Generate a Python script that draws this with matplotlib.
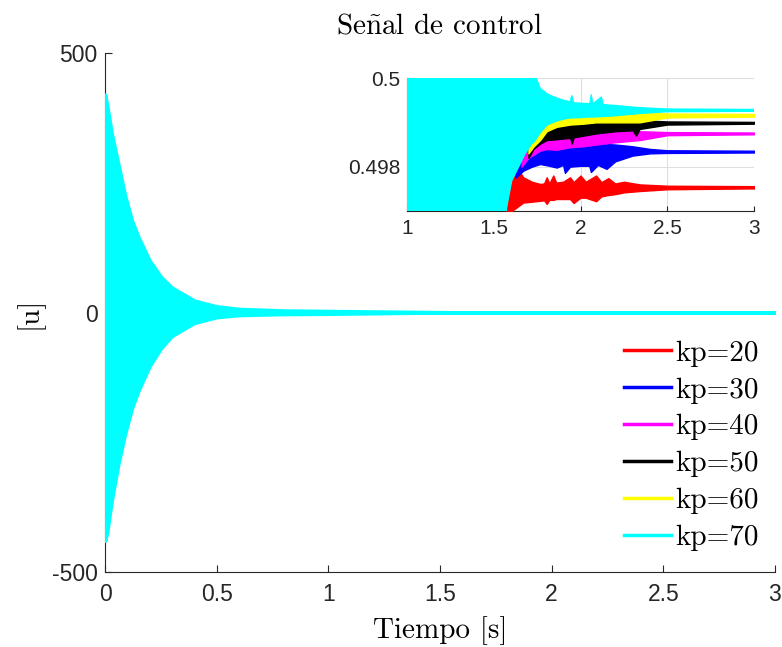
import numpy as np
import matplotlib
matplotlib.use('Agg')
import matplotlib.pyplot as plt
from matplotlib.lines import Line2D

plt.rcParams['axes.unicode_minus'] = False
plt.rcParams['mathtext.fontset'] = 'cm'

# envelope (upper / lower) of each control signal
# kp=70 is the only one that shows at the start of the run
t70 = [0, 0.01, 0.03, 0.06, 0.09, 0.12, 0.15, 0.2, 0.25, 0.3, 0.4, 0.5, 0.6, 0.8, 1.0,
       1.56, 1.574, 1.603, 1.632, 1.68, 1.719, 1.735, 1.767, 1.805, 1.824, 1.863, 1.901,
       1.94, 1.95, 1.96, 2.054, 2.062, 2.07, 2.12, 2.13, 2.2, 2.285, 2.343, 2.5, 3.0]
hi70 = [420, 398, 345, 285, 225, 178, 145, 100, 69, 48, 23, 12, 7, 4, 3,
        0.502, 0.502, 0.502, 0.502, 0.502, 0.502, 0.5001, 0.49977, 0.49965, 0.49961, 0.49955, 0.4995,
        0.49946, 0.4996, 0.49944, 0.49942, 0.49962, 0.49941, 0.49957, 0.4994, 0.49938, 0.49935, 0.49933, 0.4993, 0.49929]
lo70 = [-440, -422, -362, -291, -233, -185, -150, -103, -69, -45, -20, -9, -5, -3, -2.5,
        0.4962, 0.49708, 0.49768, 0.49791, 0.49829, 0.49852, 0.49857, 0.49876, 0.49893, 0.49897, 0.49903, 0.49907,
        0.4991, 0.4991, 0.4991, 0.49912, 0.49912, 0.49912, 0.49913, 0.49913, 0.49915, 0.49918, 0.4992, 0.49924, 0.49925]

t20 = [1.574, 1.59, 1.61, 1.632, 1.645, 1.67, 1.72, 1.767, 1.79, 1.805, 1.82, 1.843, 1.86,
       1.9, 1.94, 1.96, 2.0, 2.03, 2.09, 2.12, 2.16, 2.2, 2.25, 2.34, 2.5, 3.0]
hi20 = [0.4970, 0.4977, 0.49782, 0.49785, 0.49791, 0.49776, 0.49766, 0.49761, 0.49762, 0.49776, 0.49762, 0.4978, 0.49764,
        0.49766, 0.49776, 0.49765, 0.4978, 0.49766, 0.4978, 0.49765, 0.49774, 0.49762, 0.49766, 0.4976, 0.49757, 0.49756]
lo20 = [0.4965, 0.4969, 0.49702, 0.49708, 0.49712, 0.49719, 0.49721, 0.49723, 0.49724, 0.49716, 0.49725, 0.49725, 0.49727,
        0.49727, 0.49727, 0.49718, 0.4973, 0.4973, 0.49722, 0.49733, 0.49736, 0.49738, 0.49742, 0.49745, 0.49749, 0.49751]

t30 = [1.625, 1.67, 1.72, 1.767, 1.82, 1.863, 1.9, 1.91, 1.94, 2.0, 2.05, 2.06, 2.1, 2.15, 2.2, 2.3, 2.4, 2.5, 3.0]
hi30 = [0.4979, 0.49818, 0.49832, 0.4984, 0.49845, 0.49848, 0.4985, 0.4985, 0.49852, 0.49853,
        0.49853, 0.49853, 0.49852, 0.49851, 0.4985, 0.49846, 0.4984, 0.49837, 0.49836]
lo30 = [0.49775, 0.49791, 0.498, 0.49806, 0.49802, 0.49798, 0.49804, 0.49786, 0.498, 0.49802,
        0.49802, 0.49788, 0.49804, 0.49795, 0.49812, 0.49825, 0.4983, 0.49831, 0.49832]

t40 = [1.66, 1.70, 1.767, 1.805, 1.863, 1.94, 2.016, 2.09, 2.2, 2.34, 2.5, 3.0]
hi40 = [0.4982, 0.49845, 0.4986, 0.49868, 0.49872, 0.49876, 0.49878, 0.4988, 0.4988, 0.4988, 0.49878, 0.49877]
lo40 = [0.4980, 0.4982, 0.49836, 0.4984, 0.49838, 0.49844, 0.49846, 0.4985, 0.49855, 0.4986, 0.49871, 0.49873]

t50 = [1.70, 1.728, 1.767, 1.805, 1.863, 1.94, 1.95, 1.96, 2.016, 2.09, 2.2, 2.3, 2.32, 2.34, 2.5, 3.0]
hi50 = [0.4984, 0.49855, 0.4987, 0.49885, 0.49895, 0.499, 0.499, 0.499, 0.49905, 0.49907,
        0.49907, 0.49906, 0.49906, 0.49905, 0.49902, 0.49901]
lo50 = [0.4982, 0.4984, 0.49852, 0.4986, 0.49862, 0.49865, 0.49852, 0.49866, 0.4987, 0.49875,
        0.4988, 0.49882, 0.4987, 0.49885, 0.49895, 0.49897]

t60 = [1.70, 1.728, 1.767, 1.805, 1.863, 1.94, 2.016, 2.09, 2.2, 2.34, 2.5, 3.0]
hi60 = [0.4985, 0.49862, 0.49875, 0.49893, 0.49902, 0.4991, 0.49914, 0.49918, 0.49922, 0.49922, 0.4992, 0.49919]
lo60 = [0.4983, 0.49845, 0.4986, 0.4988, 0.4989, 0.49895, 0.49897, 0.499, 0.499, 0.499, 0.49911, 0.49913]

labels = ['kp=20', 'kp=30', 'kp=40', 'kp=50', 'kp=60', 'kp=70']
colors = ['#ff0000', '#0000ff', '#ff00ff', '#000000', '#ffff00', '#00ffff']
series = [(t20, hi20, lo20), (t30, hi30, lo30), (t40, hi40, lo40),
          (t50, hi50, lo50), (t60, hi60, lo60), (t70, hi70, lo70)]

axis_col = '#262626'
serif = 'cmr10'

fig = plt.figure(figsize=(7.82, 6.47), dpi=100)
ax = fig.add_axes([0.1343, 0.1159, 0.8567, 0.8021])

for (t, hi, lo), c in zip(series, colors):
    ax.fill_between(t, lo, hi, color=c, lw=2.5)

ax.set_xlim(0, 3)
ax.set_ylim(-500, 500)
ax.set_xticks(np.arange(0, 3.01, 0.5))
ax.set_xticklabels(['0', '0.5', '1', '1.5', '2', '2.5', '3'])
ax.set_yticks([-500, 0, 500])
ax.set_axisbelow(True)
ax.spines['top'].set_visible(False)
ax.spines['right'].set_visible(False)
for s in ['left', 'bottom']:
    ax.spines[s].set_color(axis_col)
    ax.spines[s].set_linewidth(0.8)
    ax.spines[s].set_zorder(0.5)
ax.tick_params(direction='in', length=5, width=0.8, colors=axis_col, labelsize=16.5)
ax.tick_params(axis='x', pad=8)
ax.tick_params(axis='y', pad=5.5)
for lab in ax.get_xticklabels() + ax.get_yticklabels():
    lab.set_family('Liberation Sans')

ax.set_title(r'Se$\tilde{\mathrm{n}}$al de control', fontsize=21, family=serif, pad=14)
ax.set_xlabel('Tiempo [s]', fontsize=21, family=serif, labelpad=7)
ax.set_ylabel('[u]', fontsize=21, family=serif, labelpad=6)

handles = [Line2D([], [], color=c, lw=2.5) for c in colors]
leg = ax.legend(handles, labels, loc='lower right', bbox_to_anchor=(0.985, 0.13),
                bbox_transform=fig.transFigure, frameon=False, handlelength=1.6,
                handletextpad=0.15, labelspacing=0.36, borderaxespad=0,
                prop={'family': serif, 'size': 21})

# zoomed view of the settling part
axin = fig.add_axes([0.5205, 0.6739, 0.4437, 0.2055])
for (t, hi, lo), c in zip(series, colors):
    axin.fill_between(t, lo, hi, color=c, lw=1.0)
axin.set_xlim(1, 3)
axin.set_ylim(0.497, 0.5)
axin.set_xticks([1, 1.5, 2, 2.5, 3])
axin.set_xticklabels(['1', '1.5', '2', '2.5', '3'])
axin.set_yticks([0.498, 0.5])
axin.set_yticklabels(['0.498', '0.5'])
axin.grid(True, color='#dedede', lw=0.8)
axin.set_axisbelow(True)
axin.spines['top'].set_visible(False)
axin.spines['right'].set_visible(False)
for s in ['left', 'bottom']:
    axin.spines[s].set_color(axis_col)
    axin.spines[s].set_linewidth(0.8)
    axin.spines[s].set_zorder(0.5)
axin.tick_params(direction='in', length=3.5, width=0.8, colors=axis_col, labelsize=15)
axin.tick_params(axis='x', pad=6)
axin.tick_params(axis='y', pad=5)
for lab in axin.get_xticklabels() + axin.get_yticklabels():
    lab.set_family('Liberation Sans')

fig.savefig('out.png', dpi=100)
